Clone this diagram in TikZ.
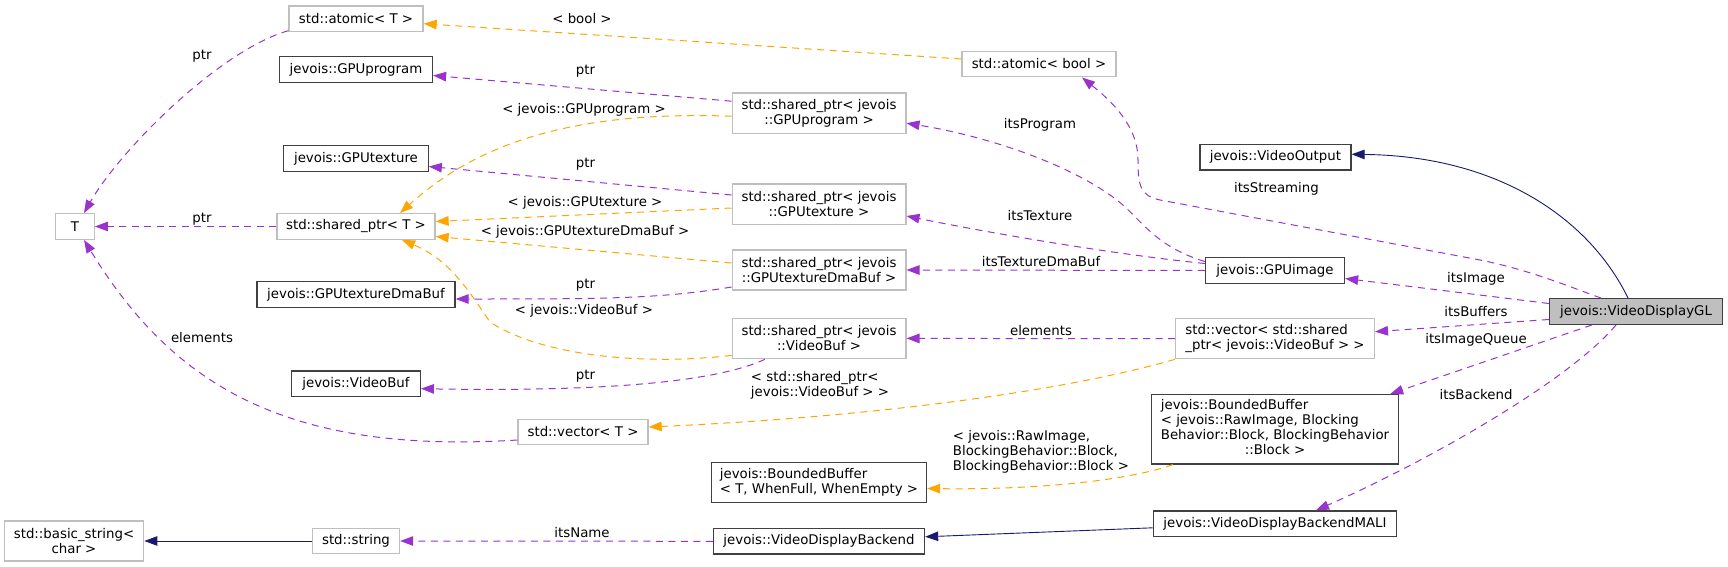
\documentclass[tikz,border=0pt]{standalone}
\usepackage{xcolor}
\definecolor{DoxPurple}{RGB}{154,50,205}
\definecolor{DoxOrange}{RGB}{255,165,0}
\definecolor{DoxNavy}{RGB}{25,25,112}
\definecolor{DoxGray}{RGB}{191,191,191}
\definecolor{DoxDark}{RGB}{64,64,64}
\usepackage{fontspec}
\setmainfont{DejaVu Sans}
\usepackage{tikz}
\usetikzlibrary{arrows.meta, calc}

\begin{document}
\begin{tikzpicture}[x=1pt, y=-1pt, font=\fontsize{13.33}{15}\selectfont,
	doc/.style={draw=DoxDark, line width=1.3pt, fill=white, inner sep=0pt, minimum height=25.6pt},
	ext/.style={draw=DoxGray, line width=1.3pt, fill=white, inner sep=0pt, minimum height=25.6pt},
	lbl/.style={inner sep=0pt, align=left},
	usage/.style={DoxPurple, line width=1pt, dash pattern=on 7pt off 5.5pt, -{Triangle[length=13pt, width=9.5pt]}},
	tmplarg/.style={usage, DoxOrange},
	inherit/.style={DoxNavy, line width=0.9pt, -{Triangle[length=13pt, width=9.5pt]}}]
	\useasboundingbox (0,0) rectangle (1728,567);

	% columna izquierda
	\node[ext, minimum width=38.5pt] (tparam) at (75,226.5) {T};
	\node[ext, minimum width=139.4pt, minimum height=40pt, align=center] (basicstr) at (74,541) {std::basic\_string<\\char >};
	\node[ext, minimum width=134pt] (atomicT) at (356,18.7) {std::atomic< T >};
	\node[doc, minimum width=153pt] (gpuprog) at (356,69.5) {jevois::GPUprogram};
	\node[doc, minimum width=144.4pt] (gputex) at (356,158.5) {jevois::GPUtexture};
	\node[ext, minimum width=158pt] (sptrT) at (356,226.5) {std::shared\_ptr< T >};
	\node[doc, minimum width=198pt] (gpudma) at (356,294.5) {jevois::GPUtextureDmaBuf};
	\node[doc, minimum width=128.6pt] (vbuf) at (356,383.7) {jevois::VideoBuf};
	\node[ext, minimum width=87pt] (stdstr) at (356,541) {std::string};
	\node[ext, minimum width=130pt] (vecT) at (583,432) {std::vector< T >};

	% columna central
	\node[ext, minimum width=154pt] (atomicbool) at (1039,64) {std::atomic< bool >};
	\node[ext, minimum width=173.7pt, minimum height=40.3pt, align=center] (sptrprog) at (819,113.2) {std::shared\_ptr< jevois\\::GPUprogram >};
	\node[ext, minimum width=173.7pt, minimum height=40.3pt, align=center] (sptrtex) at (819,204) {std::shared\_ptr< jevois\\::GPUtexture >};
	\node[ext, minimum width=173.7pt, minimum height=40pt, align=center] (sptrdma) at (819,270) {std::shared\_ptr< jevois\\::GPUtextureDmaBuf >};
	\node[ext, minimum width=173.7pt, minimum height=40.5pt, align=center] (sptrvbuf) at (819,338.4) {std::shared\_ptr< jevois\\::VideoBuf >};
	\node[doc, minimum width=215pt, minimum height=39.7pt, align=left] (bbT) at (819,482.5) {jevois::BoundedBuffer\\< T, WhenFull, WhenEmpty >};
	\node[doc, minimum width=211pt] (backend) at (819,541.3) {jevois::VideoDisplayBackend};

	% columna derecha
	\node[doc, minimum width=151pt] (vidout) at (1275.4,157.3) {jevois::VideoOutput};
	\node[doc, minimum width=139pt] (gpuimg) at (1275,270.5) {jevois::GPUimage};
	\node[ext, minimum width=198.7pt, minimum height=40pt, align=left] (vecsptr) at (1275,338.7) {std::vector< std::shared\\\_ptr< jevois::VideoBuf > >};
	\node[doc, minimum width=247pt, minimum height=69.3pt] (bbraw) at (1275,429.3) {\begin{tabular}{@{}l@{}}jevois::BoundedBuffer\\< jevois::RawImage, Blocking\\Behavior::Block, BlockingBehavior\\\multicolumn{1}{@{}c@{}}{::Block >}\end{tabular}};
	\node[doc, minimum width=243.3pt] (mali) at (1275,523.8) {jevois::VideoDisplayBackendMALI};
	\node[doc, fill=DoxGray, minimum width=173pt] (vdgl) at (1636,311.5) {jevois::VideoDisplayGL};

	% herencia
	\draw[inherit] ($(vdgl.north)+(-8,0)$) .. controls (1590,220) and (1500,156) .. ($(vidout.east)+(0,-3)$);
	\draw[inherit] (stdstr.west) -- (basicstr.east);
	\draw[inherit] ($(mali.west)+(0,4)$) -- ($(backend.east)+(0,-4.5)$);

	% miembros de VideoDisplayGL
	\draw[usage] ($(vdgl.west)+(0,-8)$) -- ($(gpuimg.east)+(0,8)$);
	\draw[usage] ($(vdgl.west)+(0,8)$) -- ($(vecsptr.east)+(0,-7)$);
	\draw[usage] ($(vdgl.south)+(-44,0)$) -- ($(bbraw.north east)+(-9,0)$);
	\draw[usage] ($(vdgl.south)+(-20,0)$) .. controls (1570,380) and (1430,460) .. ($(mali.north)+(41,0)$);
	\draw[usage] ($(vdgl.north)+(-35,0)$) .. controls (1570,287) and (1530,270) .. (1480,260) -- (1160,200)
		.. controls (1140,196) and (1138,185) .. (1138,160) .. controls (1138,125) and (1110,100) .. ($(atomicbool.south)+(43,0)$);

	% miembros de GPUimage
	\draw[usage] ($(gpuimg.west)+(0,-9)$) .. controls (1150,245) and (1140,215) .. (1110,195)
		.. controls (1060,160) and (980,135) .. ($(sptrprog.east)+(0,10)$);
	\draw[usage] ($(gpuimg.west)+(0,-7)$) .. controls (1120,255) and (1000,235) .. ($(sptrtex.east)+(0,12)$);
	\draw[usage] (gpuimg.west) -- (sptrdma.east);

	% punteros compartidos y plantillas
	\draw[tmplarg] ($(atomicbool.west)+(0,-5)$) -- ($(atomicT.east)+(0,5)$);
	\draw[usage] ($(sptrprog.west)+(0,-12)$) -- ($(gpuprog.east)+(0,6)$);
	\draw[tmplarg] ($(sptrprog.west)+(0,3)$) .. controls (560,110) and (470,150) .. ($(sptrT.north)+(44,0)$);
	\draw[usage] ($(sptrtex.west)+(0,-9)$) -- ($(gputex.east)+(0,8)$);
	\draw[tmplarg] ($(sptrtex.west)+(0,4)$) -- ($(sptrT.east)+(0,-5)$);
	\draw[tmplarg] ($(sptrdma.west)+(0,-7)$) -- ($(sptrT.east)+(0,10)$);
	\draw[usage] ($(sptrdma.west)+(0,17)$) .. controls (660,299) and (600,299) .. ($(gpudma.east)+(0,4.5)$);
	\draw[tmplarg] ($(sptrvbuf.west)+(0,17)$) .. controls (640,366) and (540,355) .. (490,322)
		.. controls (468,290) and (450,260) .. ($(sptrT.south)+(46,0)$);
	\draw[usage] ($(sptrvbuf.south)+(-54,0)$) .. controls (720,380) and (620,392) .. ($(vbuf.east)+(0,5)$);
	\draw[usage] (vecsptr.west) -- (sptrvbuf.east);
	\draw[tmplarg] (vecsptr.south west) .. controls (1050,395) and (850,418) .. ($(vecT.east)+(0,-5)$);
	\draw[tmplarg] ($(bbraw.south west)+(22,0)$) .. controls (1130,480) and (1040,490) .. ($(bbT.east)+(0,6)$);
	\draw[usage] (backend.west) -- (stdstr.east);

	% hacia T
	\draw[usage] ($(atomicT.west)+(0,12)$) .. controls (220,50) and (120,150) .. ($(tparam.north)+(9,0)$);
	\draw[usage] (sptrT.west) -- (tparam.east);
	\draw[usage] ($(vecT.west)+(0,8)$) .. controls (280,455) and (170,380) .. ($(tparam.south)+(9,0)$);

	% etiquetas
	\node[lbl] (lbool) at (582,19) {< bool >};
	\node[lbl] (lptrA) at (202,56) {ptr};
	\node[lbl] (lptrB) at (585.5,71.7) {ptr};
	\node[lbl] (lprog) at (584,110) {< jevois::GPUprogram >};
	\node[lbl] (lptrC) at (585.5,164) {ptr};
	\node[lbl] (ltex) at (585,203) {< jevois::GPUtexture >};
	\node[lbl] (lptrD) at (202,219) {ptr};
	\node[lbl] (ldma) at (585,232) {< jevois::GPUtextureDmaBuf >};
	\node[lbl] (lptrE) at (585.5,285) {ptr};
	\node[lbl] (lvbuf) at (584,311) {< jevois::VideoBuf >};
	\node[lbl] (lelemA) at (202,338) {elements};
	\node[lbl] (lptrF) at (585.5,376) {ptr};
	\node[lbl] (lsvbuf) at (820,385) {< std::shared\_ptr<\\jevois::VideoBuf > >};
	\node[lbl] (lraw) at (1041,452) {< jevois::RawImage,\\BlockingBehavior::Block,\\BlockingBehavior::Block >};
	\node[lbl] (lname) at (582,533) {itsName};
	\node[lbl] (lprogm) at (1040,125) {itsProgram};
	\node[lbl] (ltexm) at (1040,215.7) {itsTexture};
	\node[lbl] (ldmam) at (1041,262) {itsTextureDmaBuf};
	\node[lbl] (lelemB) at (1041,330.7) {elements};
	\node[lbl] (lstream) at (1276.4,188.7) {itsStreaming};
	\node[lbl] (limage) at (1476,279) {itsImage};
	\node[lbl] (lbufs) at (1476,312) {itsBuffers};
	\node[lbl] (lqueue) at (1476,340) {itsImageQueue};
	\node[lbl] (lback) at (1476,395) {itsBackend};
\end{tikzpicture}
\end{document}
